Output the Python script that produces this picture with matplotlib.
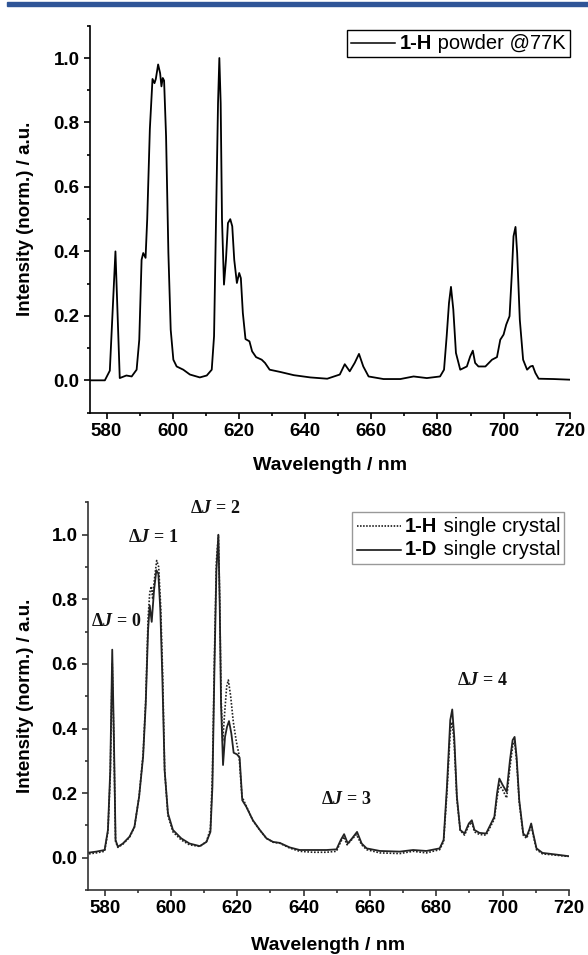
import matplotlib
matplotlib.use('Agg')
import matplotlib.pyplot as plt
from matplotlib.ticker import MultipleLocator, FormatStrFormatter
from matplotlib.offsetbox import AnchoredOffsetbox, HPacker, VPacker, TextArea, DrawingArea
from matplotlib.lines import Line2D
from matplotlib.patches import Rectangle

plt.rcParams['font.family'] = ['Liberation Sans', 'DejaVu Sans']
plt.rcParams['mathtext.fontset'] = 'custom'
plt.rcParams['mathtext.rm'] = 'Liberation Serif:bold'
plt.rcParams['mathtext.it'] = 'Liberation Serif:italic:bold'
plt.rcParams['mathtext.bf'] = 'Liberation Serif:bold'

# 1-H powder @77K (top panel)
wl_powder = [575.3, 579.5, 581.0, 582.7, 584.0, 586.0, 587.6, 589.1, 589.9, 590.6, 591.1, 591.8,
             592.3, 593.1, 593.9, 594.5, 594.9, 595.6, 596.2, 596.6, 597.0, 597.4, 598.0, 598.7,
             599.4, 600.2, 601.2, 603.2, 605.2, 608.2, 610.3, 611.8, 612.5, 613.1, 613.7, 614.1,
             614.5, 614.9, 615.5, 616.1, 616.7, 617.4, 618.0, 618.6, 619.4, 620.1, 620.6, 621.2,
             622.0, 623.2, 624.0, 625.2, 626.9, 627.9, 629.3, 632.5, 636.6, 641.6, 646.7, 650.5,
             652.0, 653.5, 655.0, 656.3, 657.6, 659.2, 663.7, 668.8, 672.8, 676.8, 680.8, 682.0,
             682.8, 683.5, 684.1, 684.8, 685.6, 686.9, 688.9, 689.9, 690.7, 691.4, 692.4, 694.5,
             696.5, 698.0, 699.0, 700.0, 700.8, 701.8, 702.5, 703.0, 703.6, 704.1, 704.9, 705.9,
             707.1, 708.1, 708.8, 709.6, 710.6, 715.1, 720.0]
int_powder = [0.0, 0.0, 0.03, 0.40, 0.007, 0.015, 0.012, 0.033, 0.126, 0.374, 0.395, 0.38,
              0.50, 0.78, 0.935, 0.922, 0.935, 0.98, 0.953, 0.912, 0.938, 0.93, 0.757, 0.395,
              0.157, 0.064, 0.043, 0.033, 0.018, 0.009, 0.015, 0.033, 0.137, 0.50, 0.86, 1.0,
              0.86, 0.50, 0.297, 0.374, 0.488, 0.50, 0.478, 0.374, 0.302, 0.333, 0.317, 0.209,
              0.128, 0.121, 0.09, 0.072, 0.064, 0.054, 0.033, 0.026, 0.016, 0.009, 0.005, 0.018,
              0.05, 0.028, 0.054, 0.082, 0.043, 0.012, 0.004, 0.004, 0.012, 0.007, 0.012, 0.033,
              0.137, 0.24, 0.29, 0.22, 0.085, 0.033, 0.043, 0.074, 0.092, 0.054, 0.043, 0.043,
              0.064, 0.072, 0.126, 0.142, 0.173, 0.199, 0.333, 0.447, 0.476, 0.395, 0.188, 0.064,
              0.033, 0.043, 0.045, 0.023, 0.005, 0.004, 0.002]

# 1-D single crystal (solid)
wl_d = [575.3, 577.5, 580.0, 581.0, 581.7, 582.3, 582.8, 583.3, 584.0, 585.5, 587.5, 589.0,
        590.4, 591.6, 592.4, 593.1, 593.6, 594.2, 594.9, 595.6, 596.2, 596.8, 597.4, 598.1,
        599.1, 600.6, 603.1, 605.6, 608.7, 610.7, 611.9, 612.5, 613.1, 613.7, 614.3, 614.7,
        615.1, 615.7, 616.3, 616.9, 617.5, 618.2, 618.9, 619.9, 620.7, 621.5, 622.7, 624.7,
        626.8, 628.8, 630.8, 632.8, 635.8, 638.8, 642.8, 646.9, 649.9, 651.2, 652.2, 653.3,
        654.6, 656.1, 657.5, 659.0, 663.0, 669.0, 673.0, 677.0, 681.0, 682.2, 683.2, 684.2,
        684.8, 685.4, 686.2, 687.2, 688.5, 689.8, 690.7, 691.5, 693.0, 695.0, 696.5, 697.5,
        698.3, 699.0, 700.0, 701.2, 702.2, 703.0, 703.6, 704.2, 705.0, 706.2, 707.2, 708.0,
        708.6, 709.2, 710.2, 712.0, 716.0, 719.8]
int_d = [0.016, 0.019, 0.024, 0.086, 0.27, 0.644, 0.374, 0.055, 0.034, 0.044, 0.065, 0.096,
         0.189, 0.312, 0.477, 0.704, 0.781, 0.73, 0.828, 0.89, 0.879, 0.766, 0.56, 0.27,
         0.137, 0.086, 0.06, 0.044, 0.036, 0.049, 0.08, 0.22, 0.58, 0.89, 0.998, 0.787,
         0.477, 0.287, 0.374, 0.405, 0.423, 0.385, 0.325, 0.32, 0.31, 0.178, 0.158, 0.116,
         0.086, 0.06, 0.049, 0.046, 0.032, 0.024, 0.024, 0.024, 0.026, 0.055, 0.073, 0.044,
         0.06, 0.08, 0.044, 0.029, 0.021, 0.019, 0.024, 0.021, 0.029, 0.055, 0.22, 0.426,
         0.459, 0.374, 0.189, 0.086, 0.075, 0.106, 0.116, 0.086, 0.077, 0.075, 0.106, 0.127,
         0.199, 0.245, 0.225, 0.204, 0.302, 0.364, 0.374, 0.312, 0.178, 0.075, 0.065, 0.086,
         0.106, 0.075, 0.029, 0.015, 0.01, 0.005]

# 1-H single crystal (dotted)
wl_h = [575.3, 577.5, 580.0, 581.0, 581.7, 582.3, 582.8, 583.3, 584.0, 585.5, 587.5, 589.0,
        590.4, 591.6, 592.4, 593.1, 593.6, 594.1, 594.5, 595.0, 595.7, 596.3, 596.9, 597.5,
        598.1, 599.1, 600.6, 603.1, 605.6, 608.7, 610.7, 611.9, 612.5, 613.1, 613.7, 614.3,
        614.7, 615.1, 615.6, 616.2, 616.8, 617.3, 618.0, 618.8, 619.7, 620.5, 621.4, 622.7,
        624.7, 626.8, 628.8, 630.8, 632.8, 635.8, 638.8, 642.8, 646.9, 649.9, 651.2, 652.1,
        653.1, 654.4, 655.9, 657.5, 659.0, 663.0, 669.0, 673.0, 677.0, 681.0, 682.2, 683.2,
        684.2, 684.8, 685.4, 686.2, 687.2, 688.5, 689.8, 690.7, 691.5, 693.0, 695.0, 696.5,
        697.5, 698.3, 699.0, 700.0, 701.2, 702.2, 703.0, 703.6, 704.2, 705.0, 706.2, 707.2,
        708.0, 708.6, 709.2, 710.2, 712.0, 716.0, 719.8]
int_h = [0.012, 0.015, 0.02, 0.08, 0.25, 0.60, 0.35, 0.05, 0.032, 0.042, 0.063, 0.095,
         0.19, 0.32, 0.49, 0.74, 0.82, 0.84, 0.80, 0.86, 0.92, 0.90, 0.78, 0.57,
         0.27, 0.13, 0.08, 0.055, 0.04, 0.035, 0.05, 0.09, 0.26, 0.62, 0.92, 1.0,
         0.80, 0.50, 0.36, 0.45, 0.53, 0.55, 0.50, 0.42, 0.36, 0.32, 0.19, 0.16,
         0.115, 0.085, 0.06, 0.048, 0.045, 0.03, 0.02, 0.017, 0.017, 0.02, 0.05, 0.065,
         0.04, 0.055, 0.072, 0.04, 0.025, 0.015, 0.013, 0.02, 0.015, 0.025, 0.05, 0.2,
         0.39, 0.42, 0.35, 0.18, 0.085, 0.07, 0.1, 0.11, 0.08, 0.072, 0.07, 0.1,
         0.12, 0.185, 0.225, 0.21, 0.185, 0.28, 0.345, 0.36, 0.30, 0.17, 0.07, 0.06,
         0.08, 0.1, 0.07, 0.025, 0.012, 0.008, 0.004]

# transition labels
dj_labels = [r'$\Delta J\,=\,0$', r'$\Delta J\,=\,1$', r'$\Delta J\,=\,2$',
             r'$\Delta J\,=\,3$', r'$\Delta J\,=\,4$']
dj_x = [583.7, 594.6, 613.3, 652.9, 694.0]
dj_y = [0.73, 0.99, 1.08, 0.18, 0.55]


def style_axes(ax, color):
    ax.set_xlim(575, 720)
    ax.set_ylim(-0.1, 1.1)
    ax.spines['top'].set_visible(False)
    ax.spines['right'].set_visible(False)
    for s in ['left', 'bottom']:
        ax.spines[s].set_linewidth(1.2)
        ax.spines[s].set_color(color)
    ax.xaxis.set_major_locator(MultipleLocator(20))
    ax.xaxis.set_minor_locator(MultipleLocator(10))
    ax.set_yticks([0.0, 0.2, 0.4, 0.6, 0.8, 1.0])
    ax.yaxis.set_minor_locator(MultipleLocator(0.1))
    ax.yaxis.set_major_formatter(FormatStrFormatter('%.1f'))
    ax.tick_params(which='major', direction='out', length=4.5, width=1.2, color=color,
                   labelsize=13.5, pad=3)
    ax.tick_params(which='minor', direction='out', length=2.5, width=1.2, color=color)
    for lab in ax.get_xticklabels() + ax.get_yticklabels():
        lab.set_fontweight('bold')
    ax.set_xlabel('Wavelength / nm', fontsize=14, fontweight='bold')
    ax.set_ylabel('Intensity (norm.) / a.u.', fontsize=13.5, fontweight='bold')
    ax.xaxis.label.set_va('center')
    ax.yaxis.label.set_va('center')


def legend_box(ax, rows, edge, anchor):
    lines = []
    for ls, bold, rest in rows:
        da = DrawingArea(35, 10, 0, 0)
        da.add_artist(Line2D([0, 32], [5, 5], color='black', lw=1.1, linestyle=ls))
        t1 = TextArea(bold, textprops=dict(fontweight='bold', fontsize=14.5))
        t2 = TextArea(rest, textprops=dict(fontsize=14.5))
        lines.append(HPacker(children=[da, t1, t2], align='center', pad=0, sep=0))
    box = VPacker(children=lines, align='left', pad=0, sep=3.5)
    anchored = AnchoredOffsetbox(loc='upper right', child=box, frameon=True, pad=0.3,
                                 borderpad=0, bbox_to_anchor=anchor,
                                 bbox_transform=ax.transAxes)
    anchored.patch.set_boxstyle('square', pad=0)
    anchored.patch.set_edgecolor(edge)
    anchored.patch.set_linewidth(1.0)
    ax.add_artist(anchored)


fig = plt.figure(figsize=(5.88, 9.55), dpi=100)
fig.patches.append(Rectangle((7 / 588, 1 - 6 / 955), 1, 4 / 955, transform=fig.transFigure,
                             color='#2f5597', zorder=0))

ax1 = fig.add_axes([0.153, 0.568, 0.816, 0.405])
ax1.plot(wl_powder, int_powder, color='black', lw=1.3)
style_axes(ax1, 'black')
ax1.xaxis.set_label_coords(0.5, -0.138)
ax1.yaxis.set_label_coords(-0.135, 0.5)
legend_box(ax1, [('-', '1-H', ' powder @77K')], 'black', (1.0, 0.99))

ax2 = fig.add_axes([0.1497, 0.068, 0.818, 0.406])
ax2.plot(wl_h, int_h, color='#222222', lw=1.2, linestyle=(0, (1, 1)))
ax2.plot(wl_d, int_d, color='#222222', lw=1.3)
style_axes(ax2, '#333333')
ax2.xaxis.set_label_coords(0.5, -0.144)
ax2.yaxis.set_label_coords(-0.131, 0.5)
legend_box(ax2, [((0, (1, 1)), '1-H', ' single crystal'), ('-', '1-D', ' single crystal')],
           '#999999', (0.99, 0.974))

for lab, x, y in zip(dj_labels, dj_x, dj_y):
    ax2.text(x, y, lab, fontsize=13, ha='center', va='center', color='#111111')

fig.savefig('out.png', dpi=100)
